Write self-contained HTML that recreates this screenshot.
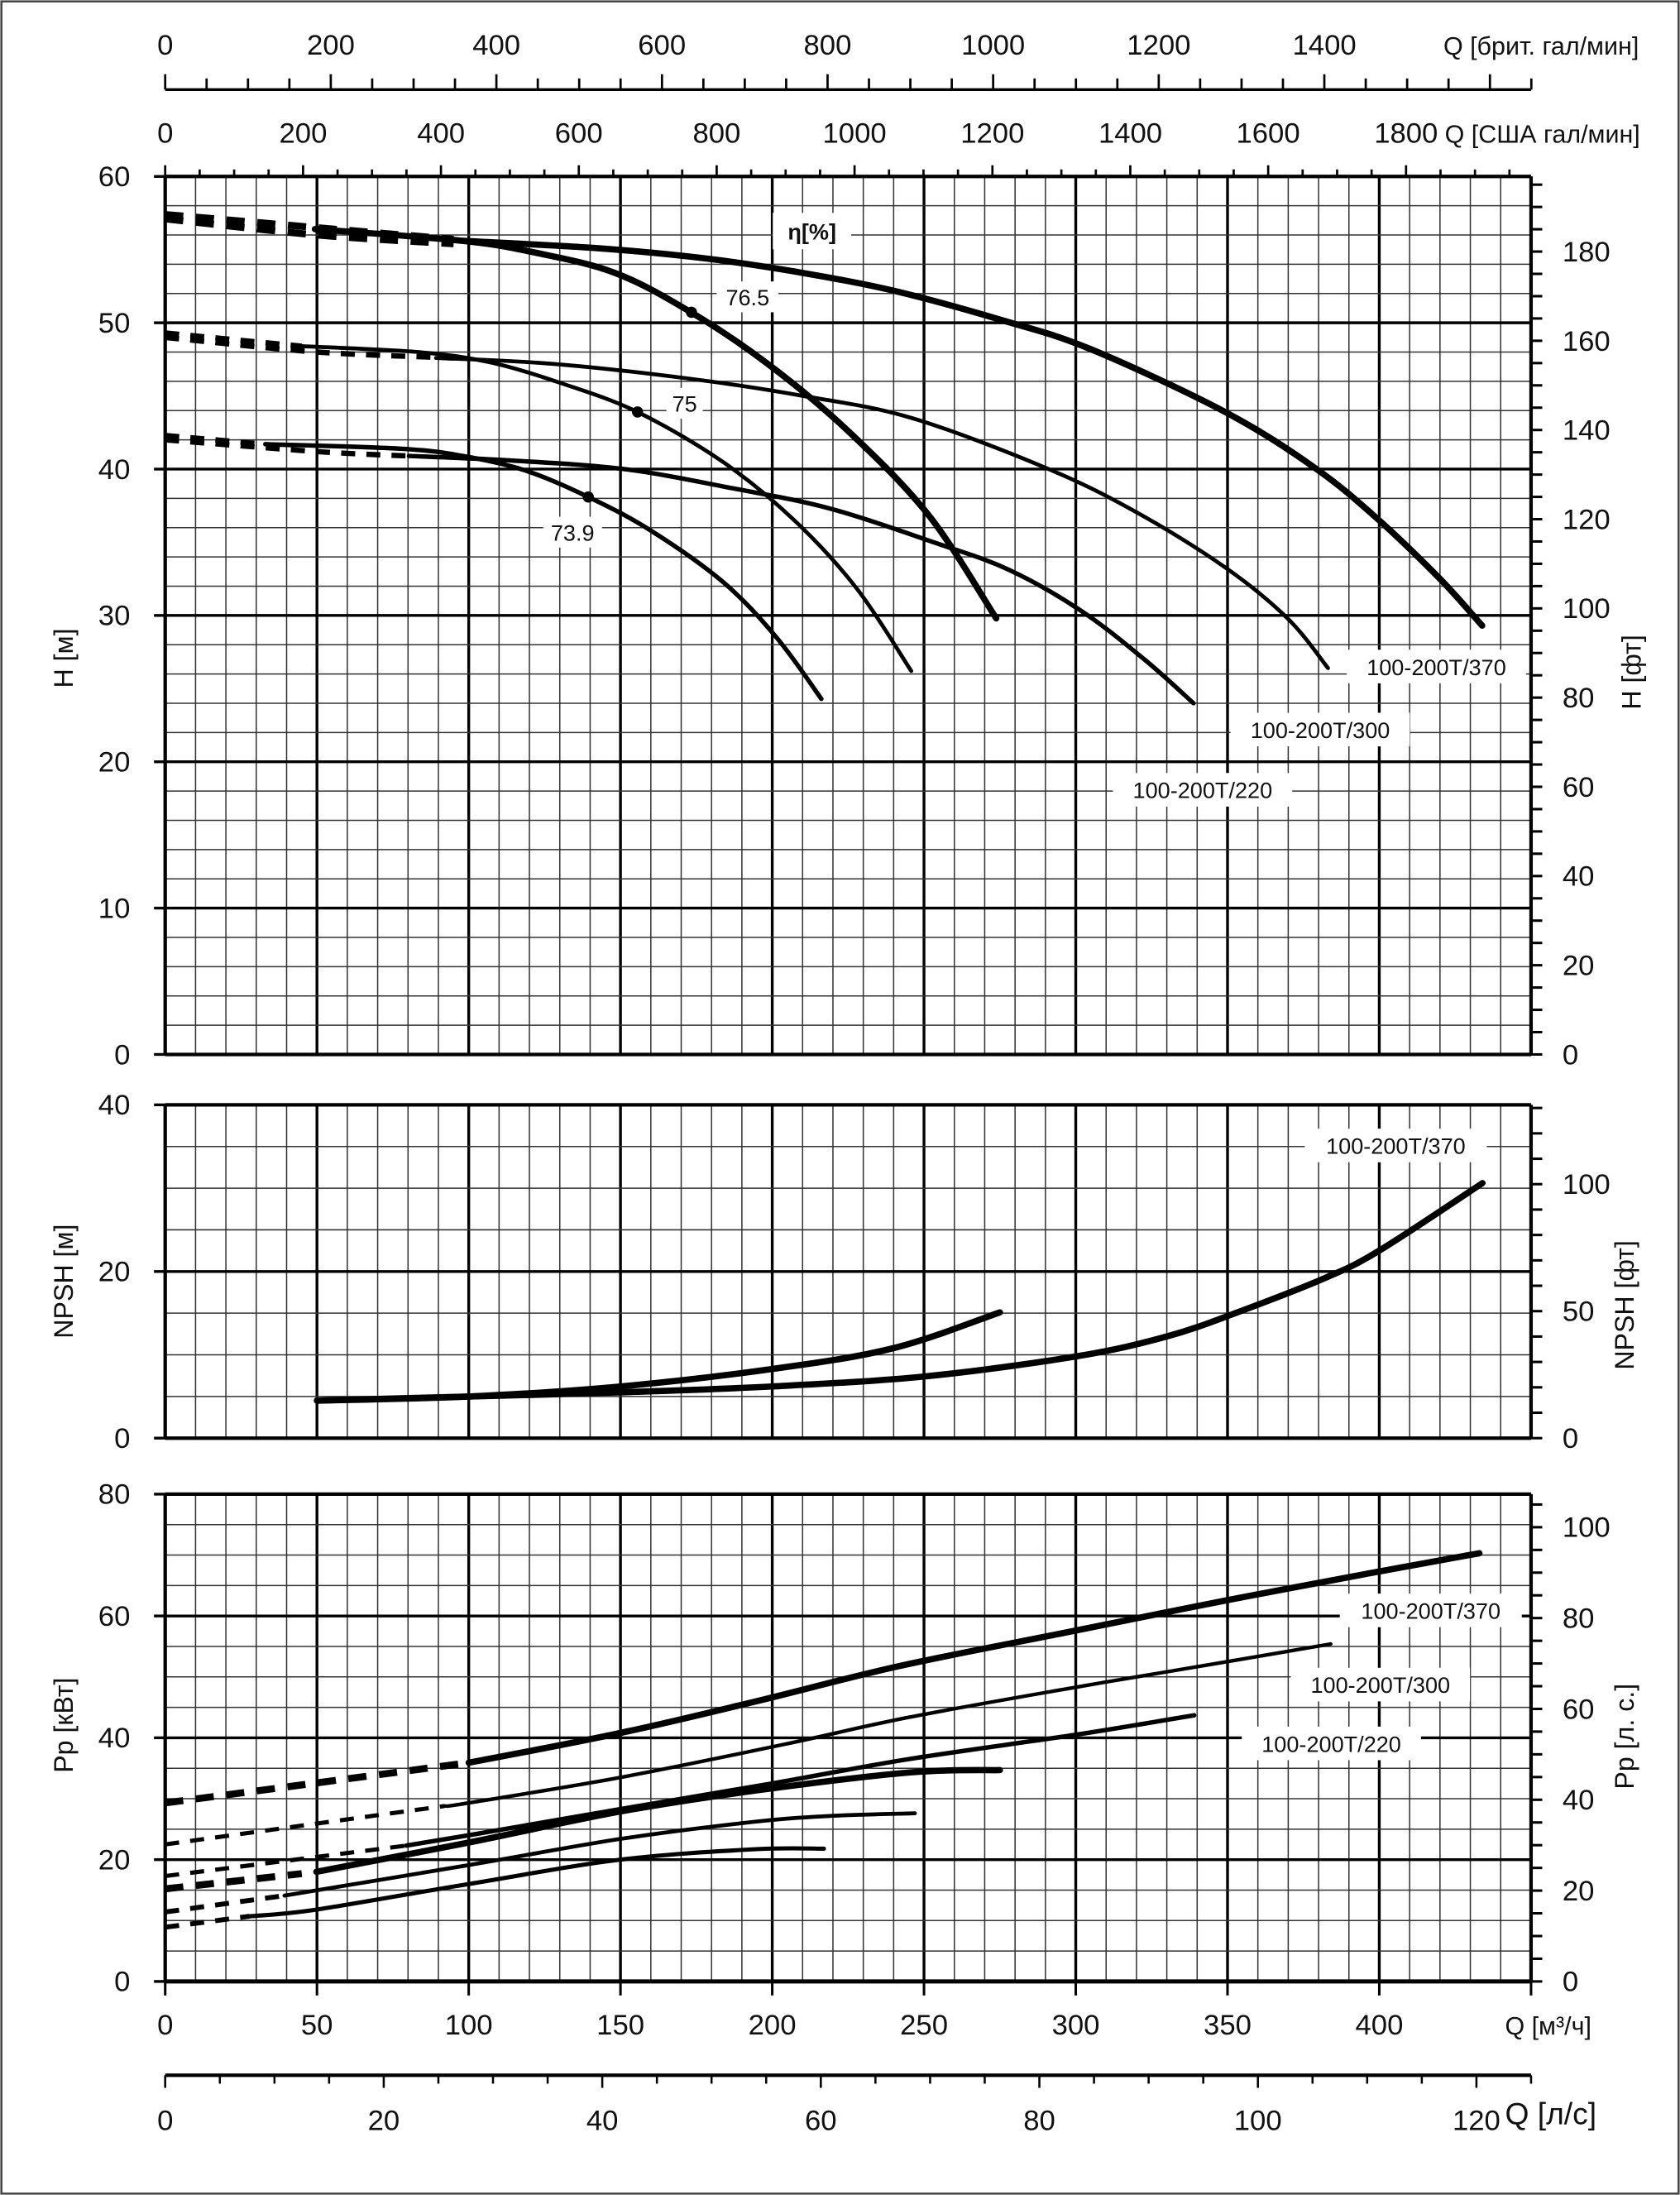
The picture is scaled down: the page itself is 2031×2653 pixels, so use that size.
<!DOCTYPE html>
<html><head><meta charset="utf-8"><style>
html,body{margin:0;padding:0;background:#fff}
svg{display:block}
text{font-family:"Liberation Sans",sans-serif;fill:#111}
.t{font-size:20.5px}
.ax{font-size:19px}
.lb{font-size:16px}
</style></head><body>
<svg id="s" xmlns="http://www.w3.org/2000/svg" width="2031" height="2653" viewBox="0 0 1200 1567.5">
<rect x="1" y="1" width="1198" height="1565.5" fill="#fff" stroke="#444" stroke-width="1.5"/>
<g id="grid"></g>
<g id="curves" fill="none" stroke="#000" stroke-linecap="round" stroke-linejoin="round"></g>
<circle cx="493.9" cy="223" r="4" fill="#000"/>
<circle cx="455.4" cy="294.2" r="4" fill="#000"/>
<circle cx="420.2" cy="354.9" r="4" fill="#000"/>
<g fill="#fff">
<rect x="512" y="201" width="44" height="22"/><rect x="476" y="277" width="26" height="22"/><rect x="388" y="369" width="42" height="22"/>
<rect x="552" y="152" width="56" height="26"/>
<rect x="962" y="464" width="128" height="24"/><rect x="879" y="509" width="128" height="24"/><rect x="795" y="552" width="128" height="24"/>
<rect x="932" y="806" width="130" height="24"/>
<rect x="957" y="1138" width="130" height="24"/><rect x="922" y="1191" width="128" height="24"/><rect x="887" y="1233" width="128" height="24"/>
</g>
<g class="lb">
<text x="534" y="218" text-anchor="middle">76.5</text>
<text x="489" y="294" text-anchor="middle">75</text>
<text x="409" y="386" text-anchor="middle">73.9</text>
<text x="580" y="171" text-anchor="middle" font-weight="bold" font-size="16" font-family="Liberation Serif,serif">η[%]</text>
<text x="1026" y="482" text-anchor="middle">100-200T/370</text>
<text x="943" y="527" text-anchor="middle">100-200T/300</text>
<text x="859" y="570" text-anchor="middle">100-200T/220</text>
<text x="997" y="824" text-anchor="middle">100-200T/370</text>
<text x="1022" y="1156" text-anchor="middle">100-200T/370</text>
<text x="986" y="1209" text-anchor="middle">100-200T/300</text>
<text x="951" y="1251" text-anchor="middle">100-200T/220</text>
</g>
<g class="t">
<text x="118" y="39" text-anchor="middle">0</text><text x="236.3" y="39" text-anchor="middle">200</text><text x="354.6" y="39" text-anchor="middle">400</text><text x="472.8" y="39" text-anchor="middle">600</text><text x="591.1" y="39" text-anchor="middle">800</text><text x="709.4" y="39" text-anchor="middle">1000</text><text x="827.7" y="39" text-anchor="middle">1200</text><text x="946" y="39" text-anchor="middle">1400</text>
<text x="1031" y="39" font-size="18">Q [брит. гал/мин]</text>
<text x="118" y="102" text-anchor="middle">0</text><text x="216.5" y="102" text-anchor="middle">200</text><text x="315" y="102" text-anchor="middle">400</text><text x="413.4" y="102" text-anchor="middle">600</text><text x="511.9" y="102" text-anchor="middle">800</text><text x="610.4" y="102" text-anchor="middle">1000</text><text x="708.9" y="102" text-anchor="middle">1200</text><text x="807.4" y="102" text-anchor="middle">1400</text><text x="905.8" y="102" text-anchor="middle">1600</text><text x="1004.3" y="102" text-anchor="middle">1800</text>
<text x="1032" y="102" font-size="18">Q [США гал/мин]</text>
<g text-anchor="end">
<text x="93" y="760">0</text><text x="93" y="655.5">10</text><text x="93" y="551">20</text><text x="93" y="446.5">30</text><text x="93" y="342">40</text><text x="93" y="237.5">50</text><text x="93" y="133">60</text>
<text x="93" y="1034">0</text><text x="93" y="915">20</text><text x="93" y="796">40</text>
<text x="93" y="1422">0</text><text x="93" y="1335">20</text><text x="93" y="1248">40</text><text x="93" y="1161">60</text><text x="93" y="1074">80</text>
</g>
<g>
<text x="1116" y="760">0</text><text x="1116" y="696.3">20</text><text x="1116" y="632.6">40</text><text x="1116" y="568.9">60</text><text x="1116" y="505.2">80</text><text x="1116" y="441.5">100</text><text x="1116" y="377.8">120</text><text x="1116" y="314.1">140</text><text x="1116" y="250.4">160</text><text x="1116" y="186.7">180</text>
<text x="1116" y="1034">0</text><text x="1116" y="943.3">50</text><text x="1116" y="852.6">100</text>
<text x="1116" y="1422">0</text><text x="1116" y="1357.1">20</text><text x="1116" y="1292.2">40</text><text x="1116" y="1227.4">60</text><text x="1116" y="1162.5">80</text><text x="1116" y="1097.6">100</text>
</g>
<g text-anchor="middle">
<text x="118" y="1453">0</text><text x="226.4" y="1453">50</text><text x="334.8" y="1453">100</text><text x="443.2" y="1453">150</text><text x="551.6" y="1453">200</text><text x="660" y="1453">250</text><text x="768.4" y="1453">300</text><text x="876.8" y="1453">350</text><text x="985.2" y="1453">400</text>
<text x="118" y="1521">0</text><text x="274.1" y="1521">20</text><text x="430.2" y="1521">40</text><text x="586.3" y="1521">60</text><text x="742.4" y="1521">80</text><text x="898.5" y="1521">100</text><text x="1054.6" y="1521">120</text>
</g>
<text x="1075" y="1453" font-size="18">Q [м³/ч]</text>
<text x="1075" y="1517" font-size="22">Q [л/с]</text>
</g>
<g class="ax">
<text transform="translate(52,470) rotate(-90)" text-anchor="middle">H [м]</text>
<text transform="translate(52,915) rotate(-90)" text-anchor="middle">NPSH [м]</text>
<text transform="translate(52,1232) rotate(-90)" text-anchor="middle">Pp [кВт]</text>
<text transform="translate(1172,480) rotate(-90)" text-anchor="middle">H [фт]</text>
<text transform="translate(1167,932) rotate(-90)" text-anchor="middle">NPSH [фт]</text>
<text transform="translate(1167,1240) rotate(-90)" text-anchor="middle">Pp [л. с.]</text>
</g>
</svg>
<script>
(function(){
var NS="http://www.w3.org/2000/svg";
var g=document.getElementById('grid'),c=document.getElementById('curves');
function ln(p,x1,y1,x2,y2,w,col){var e=document.createElementNS(NS,'line');e.setAttribute('x1',x1);e.setAttribute('y1',y1);e.setAttribute('x2',x2);e.setAttribute('y2',y2);e.setAttribute('stroke',col||'#000');e.setAttribute('stroke-width',w);p.appendChild(e);}
function X(q){return 118+2.168*q;}
var R=X(450);
function panel(top,bot,unit,step,major){
  for(var q=0;q<=450;q+=10){var mj=q%50==0;ln(g,X(q),top,X(q),bot,mj?2:0.9,mj?'#000':'#333');}
  var n=Math.round(unit/step);
  for(var i=0;i<=n;i++){var v=i*step;var y=bot-(bot-top)*v/unit;var mj=Math.abs(v%major)<1e-6;ln(g,118,y,R,y,mj?2:0.9,mj?'#000':'#333');if(mj)ln(g,110,y,118,y,2);}
  ln(g,118,top,R,top,2.5);ln(g,118,bot,R,bot,2.5);ln(g,118,top,118,bot,2.5);ln(g,R,top,R,bot,2.5);
}
panel(126,753,60,2,10);
panel(789,1027,40,5,20);
panel(1067,1415,80,5,20);
function rt(bot,top,pxPer,step,maxv){for(var v=0;v<=maxv;v+=step){var y=bot-v*pxPer;if(y<top-1)break;ln(g,R,y,R+8,y,1.8);}}
rt(753,126,3.1853,5,200);
rt(1027,789,1.8136,10,140);
rt(1415,1067,3.2438,5,110);
for(var q=0;q<=450;q+=50)ln(g,X(q),1415,X(q),1425,1.8);
ln(g,118,1415,R,1415,3);
ln(g,118,1482,R,1482,2.5);
for(var v=0;v<=125;v+=5){var x=118+7.805*v;ln(g,x,1482,x,v%20==0?1491:1488,1.5);}
ln(g,118,64,R,64,2);
for(var v=0;v<=1650;v+=50){var x=118+0.5914*v;ln(g,x,64,x,v%200==0?53:56,1.6);}
for(var v=0;v<=1950;v+=50){var x=118+0.4924*v;ln(g,x,126,x,v%200==0?118:121,1.6);}
function path(pts){var P=pts;if(P.length<3){return 'M'+P[0][0]+','+P[0][1]+' L'+P[1][0]+','+P[1][1];}
 var d='M'+P[0][0].toFixed(1)+','+P[0][1].toFixed(1);
 for(var i=0;i<P.length-1;i++){var p0=P[i-1]||P[i],p1=P[i],p2=P[i+1],p3=P[i+2]||p2;
  var c1=[p1[0]+(p2[0]-p0[0])/6,p1[1]+(p2[1]-p0[1])/6],c2=[p2[0]-(p3[0]-p1[0])/6,p2[1]-(p3[1]-p1[1])/6];
  d+=' C'+c1[0].toFixed(1)+','+c1[1].toFixed(1)+' '+c2[0].toFixed(1)+','+c2[1].toFixed(1)+' '+p2[0].toFixed(1)+','+p2[1].toFixed(1);}
 return d;}
function cv(data,fy,w,dash){var pts=data.map(function(a){return[X(a[0]),fy(a[1])];});var e=document.createElementNS(NS,'path');e.setAttribute('d',path(pts));e.setAttribute('stroke-width',w);if(dash){e.setAttribute('stroke-dasharray',dash);e.setAttribute('stroke-linecap','butt');}c.appendChild(e);}
var YH=function(h){return 753-10.45*h;},YN=function(n){return 1027-5.95*n;},YP=function(p){return 1415-4.35*p;};
var TD='13 9',td='10 8';
cv([[0,57.4],[50,56.5],[95,55.7]],YH,5,TD);
cv([[0,57.1],[50,56.0],[95,55.4]],YH,5,TD);
cv([[0,49.3],[45,48.4]],YH,3.8,td);
cv([[0,49.0],[50,48.0],[95,47.6]],YH,3.8,td);
cv([[0,42.3],[33,41.7]],YH,3.8,td);
cv([[0,42.0],[50,41.2],[80,40.9]],YH,3.8,td);
cv([[49.3,56.4],[98,55.6],[121.7,54.8],[148.3,53.4],[173.4,50.7],[198.5,47.2],[225,42.6],[251.7,36.8],[273.8,29.8]],YH,4.5);
cv([[98,55.6],[142.3,55.1],[177.8,54.4],[207.4,53.5],[239.8,52.2],[275.3,50.2],[304.9,48.2],[349.2,43.9],[378.7,40.1],[399.4,36.6],[420,32.5],[433.9,29.3]],YH,4.5);
cv([[44.8,48.4],[83.3,48.0],[106.9,47.3],[130,45.9],[155.6,43.9],[183.7,40.5],[207.3,36.5],[228,31.8],[245.8,26.2]],YH,2.8);
cv([[89.2,47.6],[127.6,47.2],[171.9,46.2],[210.3,45.0],[245.8,43.5],[290,40.1],[319.6,37.1],[349.1,33.3],[369.8,29.8],[383.1,26.4]],YH,2.8);
cv([[33,41.7],[77.4,41.4],[98,40.9],[118.7,39.9],[139.4,38.1],[160,35.8],[183.7,32.3],[201.4,28.5],[216.2,24.3]],YH,3.2);
cv([[80.3,40.9],[112.8,40.6],[151.2,40.0],[186.7,38.7],[219.1,37.3],[254.6,34.9],[278.2,33.1],[301.9,30.3],[322.6,27.0],[338.8,24.0]],YH,3.2);
cv([[50,4.5],[100,5.0],[150,6.2],[200,8.3],[240,10.8],[275,15.1]],YN,4.5);
cv([[50,4.5],[100,5.0],[150,5.5],[200,6.2],[250,7.4],[300,9.8],[330,12.2],[354,15.2],[382,19.2],[400,22.5],[434,30.6]],YN,4.5);
cv([[0,29.3],[50,32.6],[100,35.9]],YP,5,TD);
cv([[100,35.9],[150,40.8],[194,45.9],[242,51.8],[300,57.6],[350,62.6],[400,67.3],[433,70.3]],YP,4.5);
cv([[0,22.5],[92,28.8]],YP,3,td);
cv([[92,28.8],[100,29.3],[150,33.5],[203.7,38.9],[245.4,43.4],[300,48.3],[350,52.5],[384,55.4]],YP,2.6);
cv([[0,17.3],[79.4,22.3]],YP,3,td);
cv([[79.4,22.3],[100,24.0],[150,28.3],[200,32.5],[245,36.5],[300,40.5],[339,43.7]],YP,3.2);
cv([[0,15.2],[45,17.7]],YP,5,TD);
cv([[49.8,18.0],[100,22.8],[150,27.9],[194,31.3],[245,34.3],[275,34.7]],YP,4.5);
cv([[0,11.4],[39.3,14.1]],YP,3.5,td);
cv([[39.3,14.1],[100,19.1],[150,23.4],[194,26.2],[220,27.2],[247,27.6]],YP,2.8);
cv([[0,8.9],[27.8,10.7]],YP,3.5,td);
cv([[27.8,10.7],[49.8,11.8],[100,16.0],[150,20.0],[194,21.7],[217,21.8]],YP,3);
})();
</script>
</body></html>
